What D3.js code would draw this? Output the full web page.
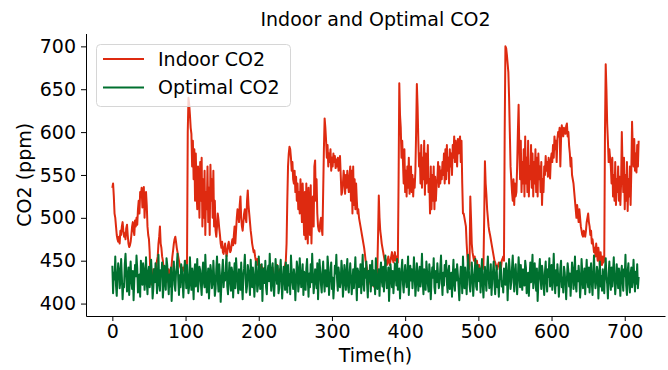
<!DOCTYPE html>
<html>
<head>
<meta charset="utf-8">
<script src="https://cdn.jsdelivr.net/npm/d3@7"></script>
<style>
  body { margin: 0; background: #fff; }
  svg text { font-family: "DejaVu Sans", sans-serif; fill: #000; }
</style>
</head>
<body>
<svg id="chart" width="668" height="370"></svg>
<script>
// hourly readings, one row per day (24 values)
const indoorCO2 = [
  535, 540, 525, 505, 500, 490, 480, 475, 472, 478, 470, 485, 480, 490, 495, 485, 478, 482, 475, 488, 492, 480, 470, 466,
  468, 472, 480, 490, 495, 485, 480, 497, 490, 500, 492, 510, 520, 505, 530, 525, 535, 512, 528, 536, 500, 520, 530, 515,
  490, 480, 475, 460, 430, 425, 422, 430, 440, 435, 428, 432, 445, 450, 455, 470, 478, 490, 470, 465, 455, 450, 440, 438,
  432, 428, 425, 430, 435, 440, 438, 432, 430, 445, 455, 462, 470, 475, 478, 472, 465, 460, 455, 450, 445, 442, 440, 442,
  440, 442, 438, 445, 450, 448, 445, 600, 640, 632, 620, 605, 598, 560, 590, 545, 580, 520, 575, 530, 510, 560, 540, 500,
  565, 520, 570, 490, 545, 500, 555, 480, 530, 510, 560, 495, 535, 480, 562, 520, 545, 500, 555, 490, 520, 485, 478, 490,
  505, 498, 488, 480, 470, 465, 472, 460, 458, 465, 470, 462, 455, 460, 468, 472, 465, 460, 462, 470, 475, 468, 480, 490,
  470, 485, 500, 510, 505, 495, 515, 525, 500, 490, 485, 495, 505, 510, 500, 495, 520, 532, 515, 505, 495, 485, 478, 470,
  465, 460, 462, 455, 450, 448, 452, 445, 448, 442, 445, 440, 438, 442, 440, 436, 435, 438, 432, 430, 434, 432, 436, 433,
  430, 432, 438, 442, 435, 430, 428, 432, 440, 445, 438, 432, 436, 440, 435, 430, 428, 425, 430, 438, 445, 450, 470, 520,
  560, 575, 583, 580, 570, 555, 565, 545, 540, 555, 530, 548, 520, 540, 510, 530, 505, 545, 520, 495, 540, 510, 480, 530,
  475, 540, 500, 470, 535, 490, 480, 538, 470, 510, 525, 490, 560, 567, 520, 545, 505, 490, 485, 484, 495, 500, 488, 480,
  530, 580, 616, 605, 590, 570, 585, 560, 575, 565, 580, 555, 570, 560, 575, 565, 572, 558, 568, 560, 570, 555, 565, 572,
  550, 527, 530, 540, 555, 545, 528, 550, 535, 555, 540, 530, 548, 560, 520, 555, 505, 560, 515, 545, 510, 540, 520, 505,
  510, 500, 495, 490, 485, 480, 475, 470, 465, 458, 450, 445, 440, 435, 430, 428, 425, 422, 430, 425, 428, 420, 432, 426,
  430, 428, 440, 480, 526, 500, 485, 478, 470, 465, 460, 455, 450, 452, 448, 445, 450, 455, 448, 445, 450, 455, 460, 452,
  448, 455, 460, 450, 455, 452, 448, 540, 657, 620, 605, 570, 590, 565, 540, 580, 530, 555, 525, 560, 535, 570, 528, 545,
  560, 530, 550, 525, 545, 535, 555, 600, 656, 630, 590, 560, 575, 540, 585, 535, 570, 545, 590, 527, 575, 540, 560, 585,
  530, 545, 505, 560, 510, 550, 520, 560, 510, 548, 520, 540, 545, 565, 536, 560, 540, 555, 545, 565, 550, 575, 540, 580,
  545, 585, 555, 570, 540, 580, 560, 575, 550, 585, 570, 595, 565, 590, 575, 560, 592, 575, 588, 595, 565, 590, 540, 505,
  505, 500, 495, 490, 470, 455, 445, 440, 445, 525, 500, 470, 460, 455, 450, 455, 448, 445, 450, 442, 440, 445, 442, 440,
  438, 442, 440, 445, 500, 566, 540, 527, 510, 500, 490, 484, 480, 475, 470, 465, 460, 455, 450, 448, 445, 442, 440, 445,
  448, 445, 440, 442, 450, 452, 455, 450, 600, 700, 698, 690, 680, 670, 640, 600, 560, 545, 530, 520, 545, 515, 540, 525,
  530, 560, 600, 632, 580, 545, 590, 530, 565, 540, 580, 525, 595, 540, 570, 530, 590, 525, 560, 545, 585, 535, 575, 525,
  565, 540, 580, 530, 570, 525, 575, 545, 560, 530, 565, 515, 545, 530, 560, 550, 572, 555, 565, 548, 570, 560, 546, 568,
  575, 565, 585, 570, 595, 580, 590, 565, 592, 600, 595, 605, 560, 592, 608, 600, 595, 605, 600, 598, 607, 610, 595, 600,
  584, 575, 560, 570, 550, 545, 540, 530, 520, 510, 500, 515, 505, 495, 510, 500, 490, 485, 480, 478, 485, 482, 478, 485,
  495, 500, 505, 495, 490, 480, 485, 470, 475, 468, 460, 465, 455, 470, 460, 450, 465, 455, 445, 460, 450, 445, 455, 448,
  450, 600, 679, 650, 610, 590, 565, 580, 570, 560, 540, 570, 525, 550, 520, 565, 515, 545, 530, 560, 520, 548, 515, 540,
  600, 560, 530, 570, 510, 550, 520, 565, 508, 545, 525, 560, 515, 555, 612, 580, 560, 592, 555, 575, 553, 585, 560, 590
];

const optimalCO2 = [
  444, 412, 436, 428, 455, 421, 409, 433, 447, 440, 418, 426, 452, 431, 405, 423, 419, 446, 458, 437, 414, 429, 442, 410,
  435, 449, 426, 417, 438, 404, 427, 445, 432, 456, 441, 413, 420, 434, 408, 450, 429, 422, 447, 439, 416, 431, 454, 425,
  411, 437, 443, 419, 428, 451, 433, 406, 418, 440, 425, 447, 436, 412, 430, 457, 423, 415, 439, 432, 448, 407, 421, 444,
  430, 416, 453, 445, 427, 411, 434, 420, 442, 403, 426, 438, 449, 422, 415, 436, 443, 458, 428, 410, 433, 419, 446, 440,
  424, 407, 431, 450, 437, 418, 445, 429, 412, 421, 454, 433, 416, 441, 427, 405, 438, 446, 420, 431, 452, 414, 426, 443,
  439, 422, 410, 436, 448, 425, 419, 457, 434, 413, 430, 441, 406, 428, 445, 437, 418, 424, 450, 432, 409, 417, 440, 455,
  428, 414, 446, 432, 402, 423, 438, 451, 419, 435, 427, 444, 456, 420, 411, 433, 448, 426, 415, 442, 436, 407, 429, 447,
  418, 453, 437, 425, 412, 440, 431, 416, 448, 422, 405, 434, 441, 457, 429, 413, 420, 445, 438, 427, 410, 451, 432, 419,
  442, 430, 408, 426, 449, 435, 414, 421, 455, 439, 417, 428, 446, 403, 432, 441, 424, 450, 419, 411, 437, 444, 426, 458,
  433, 415, 439, 447, 420, 409, 428, 452, 436, 423, 444, 412, 418, 437, 451, 430, 406, 425, 443, 434, 416, 448, 427, 413,
  445, 421, 434, 411, 456, 438, 425, 417, 440, 431, 404, 427, 449, 442, 414, 423, 453, 436, 419, 428, 446, 410, 437, 430,
  416, 441, 452, 429, 408, 435, 419, 446, 425, 458, 433, 412, 424, 440, 431, 418, 447, 405, 429, 451, 438, 422, 413, 436,
  449, 427, 414, 439, 432, 420, 455, 443, 410, 426, 437, 448, 417, 430, 406, 421, 444, 435, 457, 428, 415, 442, 433, 419,
  426, 450, 438, 408, 423, 445, 431, 416, 439, 452, 420, 413, 434, 447, 429, 411, 425, 440, 418, 436, 454, 427, 404, 441,
  437, 419, 428, 446, 412, 433, 457, 424, 415, 441, 430, 449, 422, 407, 438, 426, 445, 414, 432, 450, 421, 439, 427, 411,
  453, 432, 417, 425, 440, 409, 436, 448, 428, 420, 443, 414, 431, 456, 435, 418, 427, 442, 403, 424, 446, 433, 419, 438,
  412, 429, 447, 435, 421, 452, 416, 430, 441, 406, 426, 439, 451, 423, 413, 434, 445, 428, 419, 437, 455, 410, 431, 444,
  427, 440, 418, 431, 454, 436, 409, 422, 447, 438, 415, 429, 443, 420, 435, 458, 426, 411, 440, 432, 416, 449, 437, 423,
  414, 446, 434, 405, 427, 442, 430, 453, 419, 412, 438, 425, 447, 433, 418, 424, 441, 456, 429, 410, 436, 421, 445, 432,
  450, 425, 413, 438, 444, 417, 429, 436, 408, 432, 451, 423, 415, 440, 427, 446, 434, 419, 404, 428, 443, 437, 412, 455,
  431, 418, 442, 426, 411, 435, 457, 440, 422, 414, 429, 448, 433, 409, 425, 438, 452, 420, 416, 445, 430, 426, 441, 413,
  436, 452, 421, 407, 430, 443, 427, 415, 439, 455, 432, 418, 424, 446, 410, 428, 437, 449, 423, 411, 434, 444, 419, 427,
  408, 433, 448, 439, 420, 426, 413, 441, 430, 422, 447, 435, 404, 429, 452, 438, 417, 425, 442, 456, 431, 414, 437, 446,
  424, 411, 430, 454, 437, 419, 445, 428, 416, 440, 433, 421, 450, 442, 412, 427, 436, 409, 431, 448, 425, 439, 457, 418,
  432, 447, 426, 415, 441, 403, 424, 438, 452, 429, 417, 444, 435, 422, 410, 437, 449, 426, 414, 440, 431, 453, 420, 428,
  445, 416, 434, 458, 427, 412, 439, 421, 446, 433, 408, 425, 441, 450, 419, 430, 413, 443, 436, 423, 405, 429, 447, 438,
  420, 435, 409, 427, 448, 440, 417, 431, 455, 422, 414, 438, 426, 444, 432, 407, 421, 452, 437, 418, 429, 441, 411, 433,
  451, 428, 419, 442, 413, 436, 447, 424, 410, 434, 456, 430, 418, 425, 443, 437, 406, 428, 449, 420, 432, 415, 440, 426,
  412, 439, 453, 431, 423, 406, 435, 449, 427, 416, 442, 420, 437, 454, 429, 411, 424, 446, 433, 418, 441, 428, 409, 436,
  444, 426, 415, 440, 432, 457, 421, 410, 438, 447, 425, 413, 434, 442, 419, 428, 451, 430, 414, 437, 423, 446, 418, 431
];

const xTicks = [0, 100, 200, 300, 400, 500, 600, 700];
const yTicks = [400, 450, 500, 550, 600, 650, 700];
const seriesNames = ["Indoor CO2", "Optimal CO2"];
const seriesColors = ["#de2a10", "#00702f"];

const svg = d3.select("#chart");
const margin = { top: 33.5, right: 3, bottom: 54, left: 86 };
const W = 668, H = 370;

const x = d3.scaleLinear().domain([-36, 755]).range([margin.left, W - margin.right]);
const y = d3.scaleLinear().domain([385.5, 715]).range([H - margin.bottom, margin.top]);

const fs = "19px";

// axes
const xAxis = svg.append("g")
  .attr("transform", `translate(0,${H - margin.bottom})`)
  .call(d3.axisBottom(x).tickValues(xTicks).tickSize(5).tickPadding(4).tickSizeOuter(0));
const yAxis = svg.append("g")
  .attr("transform", `translate(${margin.left},0)`)
  .call(d3.axisLeft(y).tickValues(yTicks).tickSize(5).tickPadding(5).tickSizeOuter(0));

[xAxis, yAxis].forEach(a => {
  a.selectAll("text").style("font-size", fs).attr("fill", "#000");
  a.selectAll("line").attr("stroke", "#000").attr("stroke-width", 1);
  a.select(".domain").attr("stroke", "#000").attr("stroke-width", 1);
});

// lines
const line = d3.line()
  .x((d, i) => x(i))
  .y(d => y(d));

[indoorCO2, optimalCO2].forEach((s, k) => {
  svg.append("path")
    .datum(s)
    .attr("fill", "none")
    .attr("stroke", seriesColors[k])
    .attr("stroke-width", 2)
    .attr("stroke-linejoin", "round")
    .attr("d", line);
});

// title and labels
svg.append("text")
  .attr("x", (margin.left + W - margin.right) / 2)
  .attr("y", 26)
  .attr("text-anchor", "middle")
  .style("font-size", fs)
  .text("Indoor and Optimal CO2");

svg.append("text")
  .attr("x", (margin.left + W - margin.right) / 2)
  .attr("y", 362)
  .attr("text-anchor", "middle")
  .style("font-size", fs)
  .text("Time(h)");

svg.append("text")
  .attr("transform", `translate(31,${(margin.top + H - margin.bottom) / 2}) rotate(-90)`)
  .attr("text-anchor", "middle")
  .style("font-size", fs)
  .text("CO2 (ppm)");

// legend
const lg = svg.append("g");
lg.append("rect")
  .attr("x", 96.5).attr("y", 44.5)
  .attr("width", 194).attr("height", 62)
  .attr("rx", 4)
  .attr("fill", "#fff").attr("fill-opacity", 0.8)
  .attr("stroke", "#d6d6d6");
seriesNames.forEach((name, k) => {
  const yy = 59 + k * 28.5;
  lg.append("line")
    .attr("x1", 103).attr("x2", 144)
    .attr("y1", yy).attr("y2", yy)
    .attr("stroke", seriesColors[k]).attr("stroke-width", 2);
  lg.append("text")
    .attr("x", 158).attr("y", yy)
    .attr("dy", "0.35em")
    .style("font-size", fs)
    .text(name);
});
</script>
</body>
</html>
